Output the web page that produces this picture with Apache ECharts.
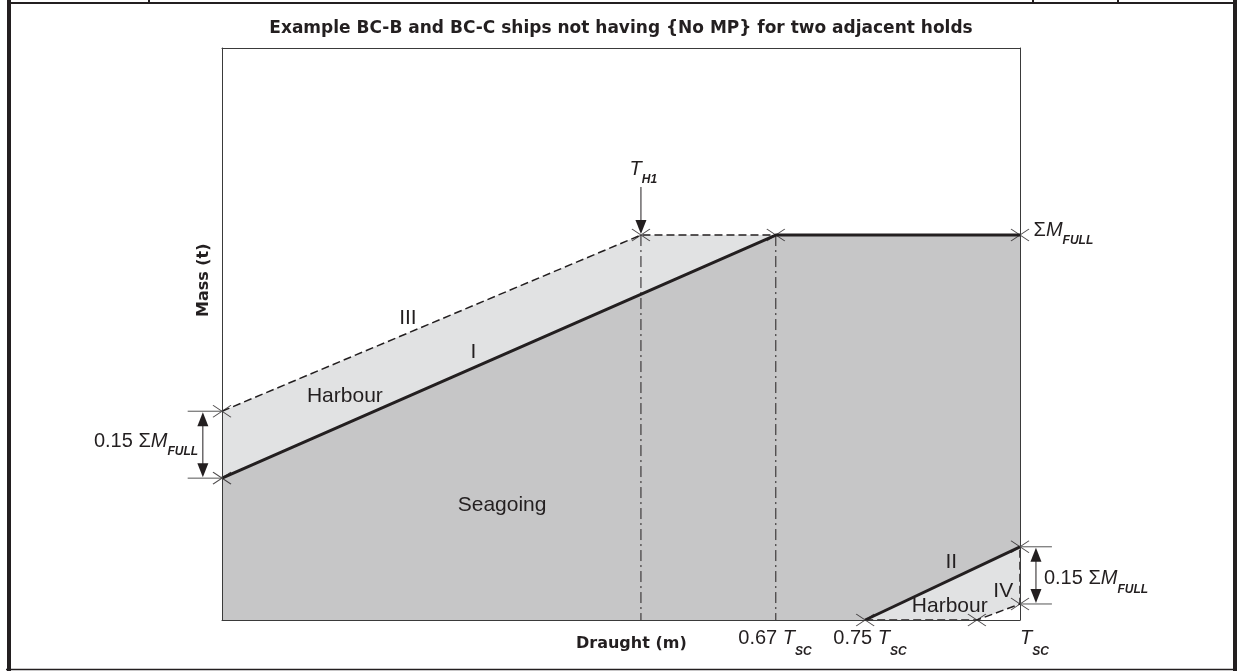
<!DOCTYPE html>
<html><head><meta charset="utf-8">
<script src="https://cdn.jsdelivr.net/npm/echarts@6/dist/echarts.min.js"></script>
<style>html,body{margin:0;padding:0;background:#fff}#c{width:1239px;height:671px}</style>
</head><body><div id="c"></div>
<script>
// ---- content ----
const titleText = 'Example BC-B and BC-C ships not having {No MP} for two adjacent holds';
const xName = 'Draught (m)';
const yName = 'Mass (t)';
// values: x = % of plot width (100 = T_SC), y = % of plot height
const lineI   = [[0, 24.8], [69.4, 67.3], [100, 67.3]];          // seagoing limit I
const lineIII = [[0, 36.5], [52.5, 67.3], [69.4, 67.3]];         // harbour limit III
const lineII  = [[80.6, 0], [100, 12.8]];                        // seagoing limit II
const lineIV  = [[80.6, 0], [94.6, 0], [100, 2.8], [100, 12.8]]; // harbour limit IV
const xTH1 = 52.5, x067 = 69.4;
const yFull = 67.3;
const crossPts = [[0, 24.8], [0, 36.5], [52.5, 67.3], [69.4, 67.3], [100, 67.3],
                  [80.6, 0], [94.6, 0], [100, 2.8], [100, 12.8]];

const INK = '#231f20', DARK = '#c6c6c7', LIGHT = '#e1e2e3', AXIS = '#3a3a3a';
const BODY = '"Liberation Sans", Arial, sans-serif';
const HEAVY = '"DejaVu Sans", sans-serif';

const chart = echarts.init(document.getElementById('c'), null, {renderer: 'canvas'});
const axisCommon = {type: 'value', min: 0, max: 100, z: 10,
  axisLine: {show: true, onZero: false, lineStyle: {color: AXIS, width: 1}},
  axisTick: {show: false}, axisLabel: {show: false}, splitLine: {show: false}};

chart.setOption({
  animation: false,
  grid: {left: 222, top: 48, right: 219, bottom: 51},
  xAxis: [Object.assign({position: 'bottom'}, axisCommon), Object.assign({position: 'top'}, axisCommon)],
  yAxis: [Object.assign({position: 'left'}, axisCommon), Object.assign({position: 'right'}, axisCommon)],
  series: [
    {type: 'line', data: lineIII, showSymbol: false, z: 1,
     areaStyle: {color: LIGHT, opacity: 1},
     lineStyle: {color: INK, width: 1.5, type: [8, 4]}},
    {type: 'line', data: lineI, showSymbol: false, z: 2,
     areaStyle: {color: DARK, opacity: 1},
     lineStyle: {color: INK, width: 3}},
    {type: 'line', data: lineII, showSymbol: false, z: 3,
     areaStyle: {color: LIGHT, opacity: 1},
     lineStyle: {color: INK, width: 3}},
    {type: 'line', data: lineIV, showSymbol: false, z: 4,
     areaStyle: {color: '#ffffff', opacity: 1},
     lineStyle: {color: INK, width: 1.5, type: [8, 4]}},
    {type: 'line', data: [[xTH1, yFull], [xTH1, 0]], showSymbol: false, z: 4,
     lineStyle: {color: INK, width: 1, type: [11, 4, 2, 4]}},
    {type: 'line', data: [[x067, yFull], [x067, 0]], showSymbol: false, z: 4,
     lineStyle: {color: INK, width: 1, type: [11, 4, 2, 4]}},
    {type: 'scatter', data: crossPts, z: 6,
     symbol: 'path://M0,0L18,12M18,0L0,12', symbolSize: [18, 12],
     itemStyle: {color: 'rgba(0,0,0,0)', borderColor: INK, borderWidth: 1}}
  ]
});

// ---- annotations ----
const ctx = document.createElement('canvas').getContext('2d');
const P = (x, y) => chart.convertToPixel({xAxisIndex: 0, yAxisIndex: 0}, [x, y]);
function fontStr(p) { return (p.italic ? 'italic ' : '') + (p.bold ? 'bold ' : '') + p.size + 'px ' + (p.family || BODY); }
// baseline-positioned run of text parts
function run(x, yBase, parts, align) {
  let w = 0;
  parts.forEach(p => { ctx.font = fontStr(p); p.w = ctx.measureText(p.t).width; w += p.w; });
  let cx = align === 'center' ? x - w / 2 : align === 'right' ? x - w : x;
  return parts.map(p => {
    const el = {type: 'text', z: 20, style: {text: p.t, x: cx, y: yBase + (p.dy || 0) - p.size * 0.32,
      font: fontStr(p), fill: INK, align: 'left', verticalAlign: 'middle'}};
    cx += p.w; return el;
  });
}
const MS = 20, SS = 12;
function sumFull(prefix) {
  const a = [];
  if (prefix) a.push({t: prefix, size: MS});
  a.push({t: 'Σ', size: MS}, {t: 'M', size: MS, italic: true}, {t: 'FULL', size: SS, italic: true, bold: true, dy: 8});
  return a;
}
function tsc(prefix) {
  const a = [];
  if (prefix) a.push({t: prefix, size: MS});
  a.push({t: 'T', size: MS, italic: true}, {t: 'SC', size: SS, italic: true, bold: true, dy: 10});
  return a;
}
function arrowHead(x, y, dir) { // tip at (x,y), dir=+1 pointing down, -1 up
  return {type: 'polygon', z: 20, shape: {points: [[x, y], [x - 5.5, y - dir * 14], [x + 5.5, y - dir * 14]]}, style: {fill: INK}};
}
function vline(x, y1, y2, color, w) {
  return {type: 'line', z: 20, shape: {x1: x, y1: y1, x2: x, y2: y2}, style: {stroke: color || INK, lineWidth: w || 1}};
}
function hline(x1, x2, y, color, w) {
  return {type: 'line', z: 20, shape: {x1: x1, y1: y, x2: x2, y2: y}, style: {stroke: color || INK, lineWidth: w || 1}};
}
function label(x, y, t) {
  const p = P(x, y);
  return {type: 'text', z: 20, style: {text: t, x: p[0], y: p[1], font: '21px ' + BODY, fill: INK, align: 'center', verticalAlign: 'middle'}};
}

const els = [];
// page frame (document table edges)
els.push({type: 'rect', shape: {x: 7, y: 0, width: 4, height: 671}, style: {fill: INK}});
els.push({type: 'rect', shape: {x: 1233, y: 0, width: 4, height: 671}, style: {fill: INK}});
els.push({type: 'rect', shape: {x: 11, y: 2, width: 1222, height: 2}, style: {fill: INK}});
[149, 1033, 1118].forEach(x => els.push({type: 'rect', shape: {x: x - 1, y: 0, width: 2, height: 3}, style: {fill: INK}}));
els.push(hline(6, 1237, 669.5, INK, 1.5));

// title and axis names
const pc = P(50, 0);
els.push({type: 'text', z: 20, style: {text: titleText, x: pc[0], y: 29, font: 'bold 17px ' + HEAVY, fill: INK, align: 'center', verticalAlign: 'middle'}});
let pp = P(51.3, -5.0);
els.push(...run(pp[0], pp[1], [{t: xName, size: 16, bold: true, family: HEAVY}], 'center'));
pp = P(-2.3, 59.4);
els.push({type: 'text', z: 20, x: pp[0], y: pp[1], rotation: Math.PI / 2,
  style: {text: yName, x: 0, y: 0, font: 'bold 16px ' + HEAVY, fill: INK, align: 'center', verticalAlign: 'middle'}});

// T_H1 with arrow
pp = P(xTH1, yFull);
const topArrow = P(xTH1, 75.7);
els.push(vline(pp[0], topArrow[1], pp[1] - 4, INK, 1));
els.push(arrowHead(pp[0], pp[1] - 1, 1));
pp = P(52.8, 77.6);
els.push(...run(pp[0], pp[1], [{t: 'T', size: MS, italic: true}, {t: 'H1', size: SS, italic: true, bold: true, dy: 7}], 'center'));

// ΣM_FULL right of top line
pp = P(101.7, 67.0);
els.push(...run(pp[0], pp[1], sumFull(''), 'left'));

// left 0.15 ΣM_FULL dimension
const lTop = P(0, 36.5), lBot = P(0, 24.8);
const lx = P(-2.4, 0)[0], lext = P(-4.3, 0)[0];
els.push(hline(lext, lTop[0], lTop[1], '#555', 1), hline(lext, lBot[0], lBot[1], '#555', 1));
els.push(vline(lx, lTop[1] + 10, lBot[1] - 10, INK, 1));
els.push(arrowHead(lx, lTop[1] + 1, -1), arrowHead(lx, lBot[1] - 1, 1));
pp = P(-3.0, 30.1);
els.push(...run(pp[0], pp[1], sumFull('0.15 '), 'right'));

// right 0.15 ΣM_FULL dimension
const rTop = P(100, 12.8), rBot = P(100, 2.8);
const rx = P(102.0, 0)[0], rext = P(104.0, 0)[0];
els.push(hline(rTop[0], rext, rTop[1], '#555', 1), hline(rBot[0], rext, rBot[1], '#555', 1));
els.push(vline(rx, rTop[1] + 10, rBot[1] - 10, INK, 1));
els.push(arrowHead(rx, rTop[1] + 1, -1), arrowHead(rx, rBot[1] - 1, 1));
pp = P(103.0, 6.1);
els.push(...run(pp[0], pp[1], sumFull('0.15 '), 'left'));

// draught marks
pp = P(64.7, -4.4); els.push(...run(pp[0], pp[1], tsc('0.67 '), 'left'));
pp = P(76.6, -4.4); els.push(...run(pp[0], pp[1], tsc('0.75 '), 'left'));
pp = P(100, -4.4);  els.push(...run(pp[0], pp[1], tsc(''), 'left'));

// region labels
els.push(label(23.3, 52.8, 'III'), label(31.5, 46.9, 'I'), label(15.4, 39.2, 'Harbour'),
         label(35.1, 20.1, 'Seagoing'), label(91.4, 10.1, 'II'), label(97.9, 5.1, 'IV'),
         label(91.2, 2.4, 'Harbour'));

chart.setOption({graphic: {elements: els}});
</script></body></html>
